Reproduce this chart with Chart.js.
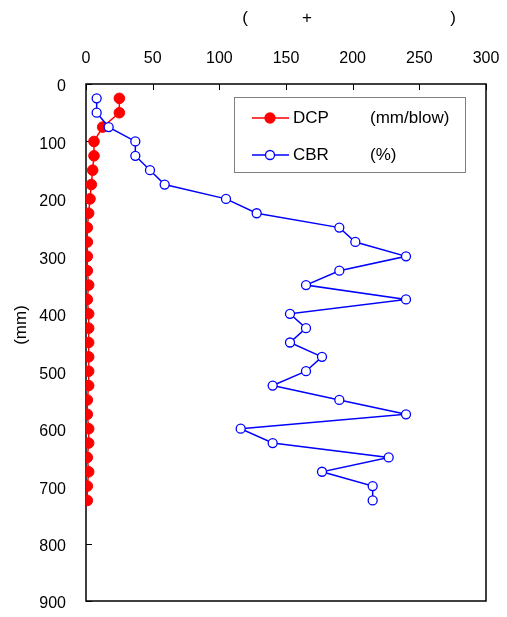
<!DOCTYPE html>
<html>
<head>
<meta charset="utf-8">
<script src="https://cdn.jsdelivr.net/npm/chart.js@4.4.0/dist/chart.umd.min.js"></script>
<style>
  html, body { margin: 0; padding: 0; background: #fff; }
  #wrap { width: 507px; height: 617px; }
</style>
</head>
<body>
<div id="wrap"><canvas id="grafico" width="507" height="617"></canvas></div>
<script>
// profundidade (mm) e leituras
const profundidade = [25, 50, 75, 100, 125, 150, 175, 200, 225, 250, 275, 300, 325, 350, 375, 400, 425, 450, 475, 500, 525, 550, 575, 600, 625, 650, 675, 700, 725];
const dcp = [25, 25, 12.5, 6, 6, 5, 4, 3, 2, 1, 1, 1, 1, 2, 1, 2, 2, 2, 2, 2, 2, 1, 1, 2, 2, 1, 2, 1, 1];
const cbr = [8, 8, 17, 37, 37, 48, 59, 105, 128, 190, 202, 240, 190, 165, 240, 153, 165, 153, 177, 165, 140, 190, 240, 116, 140, 227, 177, 215, 215];
const unidades = ["(mm/blow)", "(%)"];
const ticksX = [0, 50, 100, 150, 200, 250, 300];
const ticksY = [0, 100, 200, 300, 400, 500, 600, 700, 800, 900];

const fonte = "'Liberation Sans', Arial, sans-serif";

function pontos(valores) {
  return valores.map((v, i) => ({ x: v, y: profundidade[i] }));
}

function semSobra(s) {
  s.paddingLeft = 0;
  s.paddingRight = 0;
  s.paddingTop = 0;
  s.paddingBottom = 0;
}

// moldura e ticks para dentro (por baixo dos pontos)
const moldura = {
  id: "moldura",
  beforeDatasetsDraw(chart) {
    const ctx = chart.ctx;
    const a = chart.chartArea;
    const sx = chart.scales.x;
    const sy = chart.scales.y;
    ctx.save();
    ctx.strokeStyle = "#000";
    ctx.lineWidth = 1.5;
    ctx.strokeRect(a.left, a.top, a.right - a.left, a.bottom - a.top);

    ctx.lineWidth = 1;
    ctx.beginPath();
    ticksX.forEach(t => {
      const px = Math.round(sx.getPixelForValue(t)) + 0.5;
      ctx.moveTo(px, a.top);
      ctx.lineTo(px, a.top + 6);
    });
    ticksY.forEach(t => {
      const py = Math.round(sy.getPixelForValue(t)) + 0.5;
      ctx.moveTo(a.left, py);
      ctx.lineTo(a.left + 6, py);
    });
    ctx.stroke();
    ctx.restore();
  }
};

// legenda e titulos
const extras = {
  id: "extras",
  afterDraw(chart) {
    const ctx = chart.ctx;
    ctx.save();

    const lx = 234, ly = 97, lw = 231, lh = 75;
    ctx.fillStyle = "#fff";
    ctx.fillRect(lx, ly, lw, lh);
    ctx.strokeStyle = "#808080";
    ctx.lineWidth = 1;
    ctx.strokeRect(lx + 0.5, ly + 0.5, lw, lh);

    const ordem = [1, 0];
    ordem.forEach((di, k) => {
      const ds = chart.data.datasets[di];
      const y = 118 + k * 37;
      ctx.strokeStyle = ds.borderColor;
      ctx.lineWidth = 1.3;
      ctx.beginPath();
      ctx.moveTo(252, y);
      ctx.lineTo(289, y);
      ctx.stroke();
      ctx.beginPath();
      ctx.arc(270, y, k === 0 ? 5 : 4.5, 0, Math.PI * 2);
      ctx.fillStyle = ds.pointBackgroundColor;
      ctx.fill();
      ctx.strokeStyle = ds.pointBorderColor;
      ctx.lineWidth = 1.3;
      ctx.stroke();
      ctx.fillStyle = "#000";
      ctx.font = "17px " + fonte;
      ctx.textBaseline = "middle";
      ctx.textAlign = "left";
      ctx.fillText(ds.label, 293, y);
      ctx.fillText(unidades[k], 370, y);
    });

    ctx.fillStyle = "#000";
    ctx.font = "17px " + fonte;
    ctx.textAlign = "center";
    ctx.textBaseline = "middle";
    ctx.fillText("(", 245, 18);
    ctx.fillText("+", 307, 18);
    ctx.fillText(")", 453, 18);

    ctx.translate(21, 325);
    ctx.rotate(-Math.PI / 2);
    ctx.fillText("(mm)", 0, 0);
    ctx.restore();
  }
};

new Chart(document.getElementById("grafico").getContext("2d"), {
  type: "scatter",
  data: {
    datasets: [
      {
        label: "CBR",
        data: pontos(cbr),
        showLine: true,
        borderColor: "#0000ff",
        borderWidth: 1.5,
        pointBackgroundColor: "#ffffff",
        pointBorderColor: "#0000ff",
        pointBorderWidth: 1.3,
        pointRadius: 4.5,
        order: 1
      },
      {
        label: "DCP",
        data: pontos(dcp),
        showLine: true,
        borderColor: "#ff0000",
        borderWidth: 1.5,
        pointBackgroundColor: "#ff0000",
        pointBorderColor: "#ff0000",
        pointBorderWidth: 1,
        pointRadius: 5.3,
        order: 2
      }
    ]
  },
  options: {
    responsive: false,
    animation: false,
    layout: { padding: { left: 0, right: 21, top: 0, bottom: 16 } },
    plugins: {
      legend: { display: false },
      tooltip: { enabled: false }
    },
    scales: {
      x: {
        type: "linear",
        position: "top",
        min: 0,
        max: 300,
        afterBuildTicks: s => { s.ticks = ticksX.map(v => ({ value: v })); },
        afterFit: s => { s.height = 84; semSobra(s); },
        grid: { display: false },
        border: { display: false },
        ticks: { color: "#000", padding: 8, maxRotation: 0, font: { family: fonte, size: 16 } }
      },
      y: {
        type: "linear",
        reverse: true,
        min: 0,
        max: 900,
        afterBuildTicks: s => { s.ticks = ticksY.map(v => ({ value: v })); },
        afterFit: s => { s.width = 86; semSobra(s); },
        grid: { display: false },
        border: { display: false },
        ticks: { color: "#000", padding: 12, labelOffset: 3, font: { family: fonte, size: 16 } }
      }
    }
  },
  plugins: [moldura, extras]
});
</script>
</body>
</html>
